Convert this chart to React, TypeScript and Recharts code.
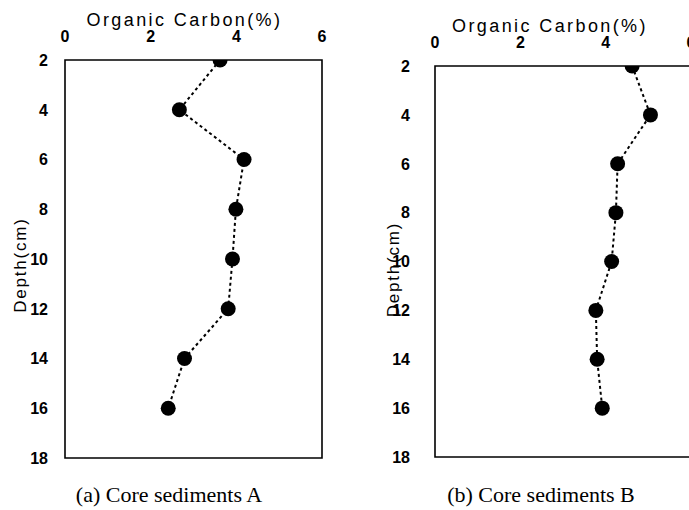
import React from 'react';
import { ScatterChart, Scatter, XAxis, YAxis, ReferenceArea, Label } from 'recharts';

const depthTicks = [2, 4, 6, 8, 10, 12, 14, 16, 18];
const carbonTicks = [0, 2, 4, 6];

const depthsA = [2, 4, 6, 8, 10, 12, 14, 16];
const carbonA = [3.62, 2.67, 4.18, 3.99, 3.91, 3.81, 2.79, 2.41];

const depthsB = [2, 4, 6, 8, 10, 12, 14, 16];
const carbonB = [4.62, 5.05, 4.28, 4.24, 4.14, 3.77, 3.8, 3.92];

const titleText = 'Organic Carbon(%)';
const depthLabel = 'Depth(cm)';
const captionA = '(a) Core sediments A';
const captionB = '(b) Core sediments B';

const toRows = (d: number[], c: number[]) => d.map((depth, i) => ({ depth, carbon: c[i] }));

const FONT = 'Liberation Sans, Arial, sans-serif';

const XTick = (p: any) => (
  <text x={p.x} y={p.y} textAnchor="middle" fontFamily={FONT} fontWeight={700} fontSize={16} fill="#000">
    {p.payload.value}
  </text>
);

const YTick = (p: any) => (
  <text x={p.x} y={p.y} dy="0.36em" textAnchor="end" fontFamily={FONT} fontWeight={700} fontSize={16} fill="#000">
    {p.payload.value}
  </text>
);

const Dot = (p: any) => <circle cx={p.cx} cy={p.cy} r={7.5} fill="#000" />;

type PanelProps = {
  rows: { depth: number; carbon: number }[];
  left: number;
  width: number;
  height: number;
  margin: { top: number; right: number; bottom: number; left: number };
  yAxisWidth: number;
  xAxisHeight: number;
  titleDx: number;
  titleBaseline: number;
  yLabelX: number;
  yLabelDy: number;
  xTickMargin: number;
  yTickMargin: number;
};

function Panel(props: PanelProps) {
  const { rows, left, width, height, margin, yAxisWidth, xAxisHeight, titleDx, titleBaseline, yLabelX, yLabelDy, xTickMargin, yTickMargin } = props;
  const TitleContent = (lp: any) => {
    const vb = lp.viewBox || { x: 0, y: 0, width: 0, height: 0 };
    return (
      <text
        x={vb.x + vb.width / 2 + titleDx}
        y={titleBaseline}
        textAnchor="middle"
        fontFamily={FONT}
        fontSize={18}
        letterSpacing={2.4}
        fill="#000"
      >
        {titleText}
      </text>
    );
  };
  const YLabelContent = (lp: any) => {
    const vb = lp.viewBox || { x: 0, y: 0, width: 0, height: 0 };
    const cx = vb.x + yLabelX;
    const cy = vb.y + vb.height / 2 + yLabelDy;
    return (
      <text
        x={cx}
        y={cy}
        transform={`rotate(-90, ${cx}, ${cy})`}
        textAnchor="middle"
        dominantBaseline="central"
        fontFamily={FONT}
        fontSize={17}
        letterSpacing={1.8}
        fill="#000"
      >
        {depthLabel}
      </text>
    );
  };
  return (
    <div style={{ position: 'absolute', left, top: 0 }}>
      <ScatterChart width={width} height={height} margin={margin}>
        <XAxis
          type="number"
          dataKey="carbon"
          orientation="top"
          domain={[0, 6]}
          ticks={carbonTicks}
          height={xAxisHeight}
          tickLine={false}
          axisLine={false}
          tickSize={0}
          tickMargin={xTickMargin}
          tick={XTick}
          interval={0}
          allowDataOverflow
        >
          <Label content={TitleContent} />
        </XAxis>
        <YAxis
          type="number"
          dataKey="depth"
          reversed
          domain={[2, 18]}
          ticks={depthTicks}
          width={yAxisWidth}
          tickLine={false}
          axisLine={false}
          tickSize={0}
          tickMargin={yTickMargin}
          tick={YTick}
          interval={0}
          allowDataOverflow
        >
          <Label content={YLabelContent} />
        </YAxis>
        <XAxis
          xAxisId="inner"
          type="number"
          dataKey="carbon"
          orientation="top"
          mirror
          domain={[0, 6]}
          ticks={carbonTicks}
          height={5}
          tickSize={5}
          tickLine={{ stroke: '#000', strokeWidth: 1 }}
          axisLine={false}
          tickFormatter={() => ''}
          interval={0}
        />
        <YAxis
          yAxisId="inner"
          type="number"
          dataKey="depth"
          reversed
          mirror
          domain={[2, 18]}
          ticks={depthTicks}
          width={5}
          tickSize={5}
          tickLine={{ stroke: '#000', strokeWidth: 1 }}
          axisLine={false}
          tickFormatter={() => ''}
          interval={0}
        />
        <ReferenceArea x1={0} x2={6} y1={2} y2={18} fill="none" stroke="#000" strokeWidth={1.6} fillOpacity={0} />
        <Scatter
          data={rows}
          isAnimationActive={false}
          shape={Dot}
          line={{ stroke: '#000', strokeWidth: 2, strokeDasharray: '3 3' }}
          lineType="joint"
        />
      </ScatterChart>
    </div>
  );
}

const captionStyle: React.CSSProperties = {
  position: 'absolute',
  top: 482,
  width: 260,
  textAlign: 'center',
  fontFamily: 'Liberation Serif, Times New Roman, serif',
  fontSize: 22,
  color: '#000',
  whiteSpace: 'nowrap',
};

export default function App() {
  return (
    <div style={{ position: 'absolute', left: 0, top: 0, width: 689, height: 510, overflow: 'hidden', background: '#fff' }}>
      <Panel
        rows={toRows(depthsA, carbonA)}
        left={0}
        width={340}
        height={510}
        margin={{ top: 0, right: 18, bottom: 52, left: 0 }}
        yAxisWidth={65}
        xAxisHeight={60}
        titleDx={-9}
        titleBaseline={26}
        yLabelX={20}
        yLabelDy={6}
        xTickMargin={18}
        yTickMargin={17}
      />
      <Panel
        rows={toRows(depthsB, carbonB)}
        left={360}
        width={340}
        height={510}
        margin={{ top: 0, right: 9, bottom: 53, left: 0 }}
        yAxisWidth={75}
        xAxisHeight={66}
        titleDx={-13}
        titleBaseline={32}
        yLabelX={33}
        yLabelDy={8}
        xTickMargin={18}
        yTickMargin={25}
      />
      <div style={{ ...captionStyle, left: 169 - 130 }}>{captionA}</div>
      <div style={{ ...captionStyle, left: 541 - 130 }}>{captionB}</div>
    </div>
  );
}
